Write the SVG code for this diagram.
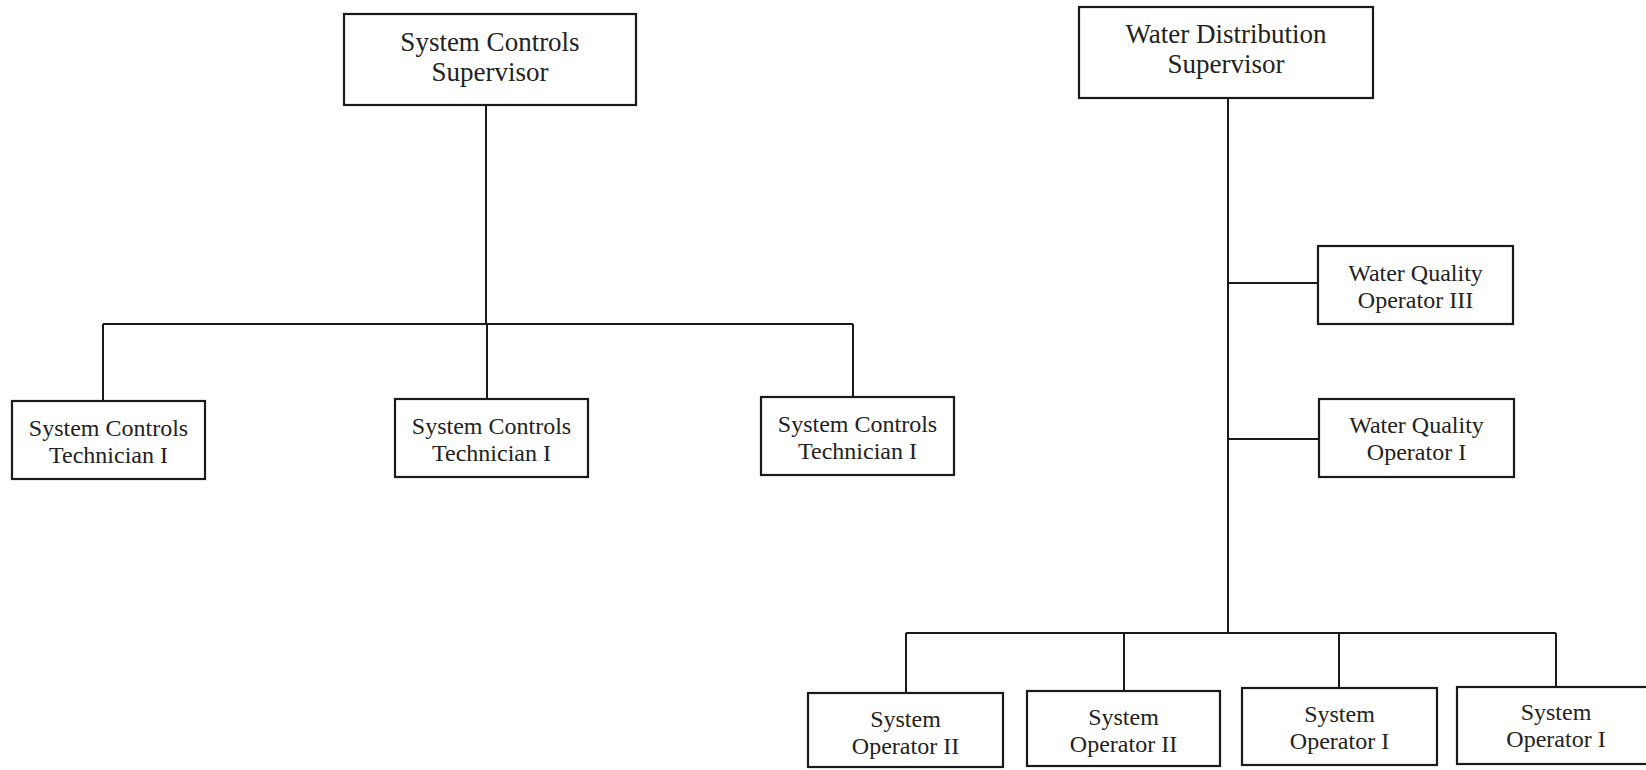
<svg xmlns="http://www.w3.org/2000/svg" width="1646" height="770" viewBox="0 0 1646 770">
  <style>
    .box { fill: #ffffff; stroke: #1a1a1a; stroke-width: 2.2; }
    .wire { fill: none; stroke: #1a1a1a; stroke-width: 2; }
    .lbl { font-family: "Liberation Serif", "Times New Roman", serif; fill: #222222; text-anchor: middle; }
    .big { font-size: 27px; }
    .small { font-size: 24px; }
  </style>
  <rect width="1646" height="770" fill="#ffffff"/>

  <!-- connectors -->
  <g id="connectors">
    <!-- System Controls branch -->
    <path class="wire" d="M486 105 V324"/>
    <path class="wire" d="M103 324 H853"/>
    <path class="wire" d="M103 324 V401"/>
    <path class="wire" d="M487 324 V399"/>
    <path class="wire" d="M853 324 V397"/>
    <!-- Water Distribution branch -->
    <path class="wire" d="M1228 98 V633"/>
    <path class="wire" d="M1228 283 H1318"/>
    <path class="wire" d="M1228 439 H1319"/>
    <path class="wire" d="M906 633 H1556"/>
    <path class="wire" d="M906 633 V693"/>
    <path class="wire" d="M1124 633 V691"/>
    <path class="wire" d="M1339 633 V688"/>
    <path class="wire" d="M1556 633 V687"/>
  </g>

  <!-- System Controls group -->
  <g id="sc-supervisor">
    <rect class="box" x="344" y="14" width="292" height="91"/>
    <text class="lbl big" x="490" y="51">System Controls</text>
    <text class="lbl big" x="490" y="81">Supervisor</text>
  </g>
  <g id="sc-tech-1">
    <rect class="box" x="12" y="401" width="193" height="78"/>
    <text class="lbl small" x="108.5" y="436">System Controls</text>
    <text class="lbl small" x="108.5" y="463">Technician I</text>
  </g>
  <g id="sc-tech-2">
    <rect class="box" x="395" y="399" width="193" height="78"/>
    <text class="lbl small" x="491.5" y="434">System Controls</text>
    <text class="lbl small" x="491.5" y="461">Technician I</text>
  </g>
  <g id="sc-tech-3">
    <rect class="box" x="761" y="397" width="193" height="78"/>
    <text class="lbl small" x="857.5" y="432">System Controls</text>
    <text class="lbl small" x="857.5" y="459">Technician I</text>
  </g>

  <!-- Water Distribution group -->
  <g id="wd-supervisor">
    <rect class="box" x="1079" y="7" width="294" height="91"/>
    <text class="lbl big" x="1226" y="43">Water Distribution</text>
    <text class="lbl big" x="1226" y="73">Supervisor</text>
  </g>
  <g id="wq-operator-3">
    <rect class="box" x="1318" y="246" width="195" height="78"/>
    <text class="lbl small" x="1415.5" y="281">Water Quality</text>
    <text class="lbl small" x="1415.5" y="308">Operator III</text>
  </g>
  <g id="wq-operator-1">
    <rect class="box" x="1319" y="399" width="195" height="78"/>
    <text class="lbl small" x="1416.5" y="433">Water Quality</text>
    <text class="lbl small" x="1416.5" y="460">Operator I</text>
  </g>
  <g id="sys-operator-2a">
    <rect class="box" x="808" y="693" width="195" height="74"/>
    <text class="lbl small" x="905.5" y="727">System</text>
    <text class="lbl small" x="905.5" y="754">Operator II</text>
  </g>
  <g id="sys-operator-2b">
    <rect class="box" x="1027" y="691" width="193" height="75"/>
    <text class="lbl small" x="1123.5" y="725">System</text>
    <text class="lbl small" x="1123.5" y="752">Operator II</text>
  </g>
  <g id="sys-operator-1a">
    <rect class="box" x="1242" y="688" width="195" height="77"/>
    <text class="lbl small" x="1339.5" y="722">System</text>
    <text class="lbl small" x="1339.5" y="749">Operator I</text>
  </g>
  <g id="sys-operator-1b">
    <rect class="box" x="1457" y="687" width="200" height="77"/>
    <text class="lbl small" x="1556" y="720">System</text>
    <text class="lbl small" x="1556" y="747">Operator I</text>
  </g>
</svg>
